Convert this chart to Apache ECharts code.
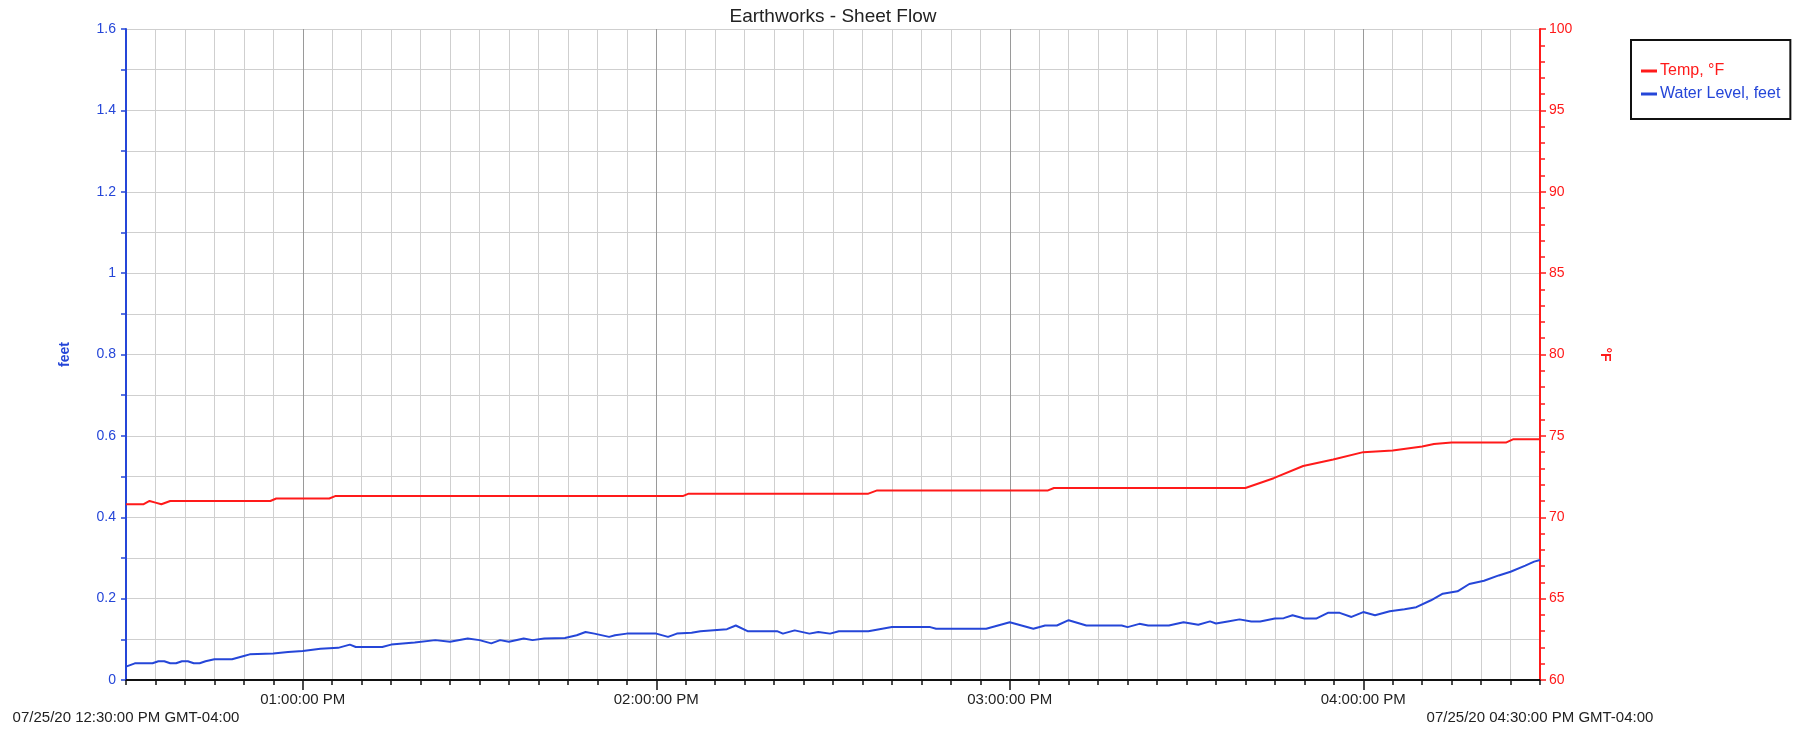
<!DOCTYPE html>
<html>
<head>
<meta charset="utf-8">
<script src="https://cdn.jsdelivr.net/npm/echarts@6/dist/echarts.min.js"></script>
<style>
html,body{margin:0;padding:0;background:#fff;}
#chart{width:1801px;height:732px;}
</style>
</head>
<body>
<div id="chart"></div>
<script>
// Time in minutes after 07/25/20 12:30:00 PM
const waterMinutes = [0,1.5,4.5,5.5,6.5,7.5,8.5,9.5,10.5,11.5,12.5,13.5,15,18,20,21,25,27.5,30,31,33,36,38,39,43.5,45,49,52.5,55,58,60,62,63.5,65,67.5,69,71,74.5,76.5,78,79.5,82,83,85,90,92,93.5,96,97.5,102,103.5,105.5,110.5,111.5,113.5,116,117.5,119.5,121,126,130,136.5,137.5,146,150,154,156,158,160,163,169,170,172,173.5,177,179.5,182,184,185,187,189,191,192.5,195,196.5,198,200,202,204,206,208,210,212,214.5,217,219,221.5,223.5,226,228,230.5,233,235,237.5,239,240];
const waterLevel = [0.033,0.041,0.041,0.046,0.046,0.041,0.041,0.046,0.046,0.041,0.041,0.046,0.051,0.051,0.059,0.063,0.065,0.069,0.071,0.073,0.077,0.079,0.087,0.081,0.081,0.087,0.092,0.098,0.094,0.102,0.098,0.090,0.098,0.094,0.102,0.098,0.102,0.103,0.110,0.118,0.114,0.106,0.110,0.114,0.114,0.106,0.114,0.116,0.120,0.125,0.134,0.120,0.120,0.114,0.122,0.114,0.118,0.114,0.120,0.120,0.130,0.130,0.126,0.126,0.142,0.126,0.134,0.134,0.147,0.134,0.134,0.130,0.138,0.134,0.134,0.142,0.136,0.144,0.139,0.144,0.149,0.144,0.144,0.151,0.152,0.159,0.151,0.151,0.165,0.165,0.155,0.167,0.159,0.169,0.174,0.179,0.196,0.212,0.218,0.236,0.244,0.257,0.266,0.281,0.291,0.295];
const tempMinutes = [0,3,4,5,6,7.5,24.5,25.5,34.5,35.5,94.5,95.5,126,127.5,156.5,157.5,190,194.8,199.8,204.9,210,215,220,222,225,234.3,235.5,240];
const tempF = [70.8,70.8,71.0,70.9,70.8,71.0,71.0,71.15,71.15,71.3,71.3,71.45,71.45,71.65,71.65,71.8,71.8,72.4,73.15,73.55,74.0,74.1,74.35,74.5,74.6,74.6,74.8,74.8];

const hourMinutes = [30,90,150,210];
const hourLabels = ['01:00:00 PM','02:00:00 PM','03:00:00 PM','04:00:00 PM'];
const startLabel = '07/25/20 12:30:00 PM GMT-04:00';
const endLabel = '07/25/20 04:30:00 PM GMT-04:00';
const leftTickLabels = ['0','0.2','0.4','0.6','0.8','1','1.2','1.4','1.6'];

const FONT = "'Liberation Sans', Arial, sans-serif";
const RED = '#ff1a1a';
const BLUE = '#2546d8';

const waterData = waterMinutes.map((t,i)=>[t, waterLevel[i]]);
const tempData = tempMinutes.map((t,i)=>[t, tempF[i]]);

const gridColors = [];
for (let i=0;i<12;i++) gridColors.push(i===6 ? '#9a9a9a' : '#cfcfcf');

const chart = echarts.init(document.getElementById('chart'), null, {renderer:'canvas'});
chart.setOption({
  animation:false,
  backgroundColor:'#fff',
  title:{
    text:'Earthworks - Sheet Flow',
    left:833, top:7, textAlign:'center', padding:0,
    textStyle:{fontFamily:FONT, fontSize:19, fontWeight:'normal', color:'#222'}
  },
  legend:{
    orient:'vertical', left:1631, top:40,
    padding:[23,10,17,10], itemGap:7, itemWidth:16, itemHeight:3,
    borderColor:'#111', borderWidth:2, icon:'rect',
    textStyle:{fontFamily:FONT, fontSize:16, padding:[0,0,0,-2]},
    data:[
      {name:'Temp, °F', textStyle:{color:RED}},
      {name:'Water Level, feet', textStyle:{color:BLUE}}
    ]
  },
  grid:{left:126, right:261, top:29, bottom:52, containLabel:false},
  xAxis:[{
    type:'value', min:0, max:240, interval:5,
    axisLine:{show:true, onZero:false, lineStyle:{color:'#111', width:2}},
    axisTick:{show:true, length:5, lineStyle:{color:'#111', width:1.5}},
    splitLine:{show:true, lineStyle:{color:gridColors, width:1}},
    axisLabel:{
      show:true, showMinLabel:true, showMaxLabel:true, margin:11,
      fontFamily:FONT, fontSize:15, color:'#222', lineHeight:18,
      formatter:function(v){
        if (v===0) return '\n'+startLabel;
        if (v===240) return '\n'+endLabel;
        const i = hourMinutes.indexOf(v);
        return i>=0 ? hourLabels[i] : '';
      }
    }
  },{
    type:'value', min:0, max:240, position:'bottom',
    axisLine:{show:false, onZero:false}, axisLabel:{show:false}, splitLine:{show:false},
    axisTick:{show:true, length:10, customValues:hourMinutes, lineStyle:{color:'#111', width:1.5}}
  }],
  yAxis:[{
    type:'value', min:0, max:1.6, interval:0.1, position:'left',
    name:'feet', nameLocation:'middle', nameGap:54, nameRotate:90,
    nameTextStyle:{fontFamily:FONT, fontSize:14, fontWeight:'bold', color:BLUE},
    axisLine:{show:true, onZero:false, lineStyle:{color:BLUE, width:2}},
    axisTick:{show:true, length:5, lineStyle:{color:BLUE, width:1.5}},
    splitLine:{show:true, lineStyle:{color:'#cfcfcf', width:1}},
    axisLabel:{
      margin:10, fontFamily:FONT, fontSize:14, color:BLUE,
      formatter:function(v){
        const k = Math.round(v*10);
        return k%2===0 ? leftTickLabels[k/2] : '';
      }
    }
  },{
    type:'value', min:60, max:100, interval:5, position:'right',
    name:'°F', nameLocation:'middle', nameGap:58, nameRotate:-90,
    nameTextStyle:{fontFamily:FONT, fontSize:14, fontWeight:'bold', color:RED},
    axisLine:{show:true, onZero:false, lineStyle:{color:RED, width:2}},
    axisTick:{show:true, length:6, lineStyle:{color:RED, width:1.5}},
    minorTick:{show:true, splitNumber:5, length:5, lineStyle:{color:RED, width:1.5}},
    splitLine:{show:false},
    axisLabel:{margin:9, fontFamily:FONT, fontSize:14, color:RED}
  }],
  series:[{
    name:'Temp, °F', type:'line', yAxisIndex:1, xAxisIndex:0,
    data:tempData, showSymbol:false, symbol:'none',
    lineStyle:{color:RED, width:2}, itemStyle:{color:RED}
  },{
    name:'Water Level, feet', type:'line', yAxisIndex:0, xAxisIndex:0,
    data:waterData, showSymbol:false, symbol:'none',
    lineStyle:{color:BLUE, width:2}, itemStyle:{color:BLUE}
  }]
});
</script>
</body>
</html>
